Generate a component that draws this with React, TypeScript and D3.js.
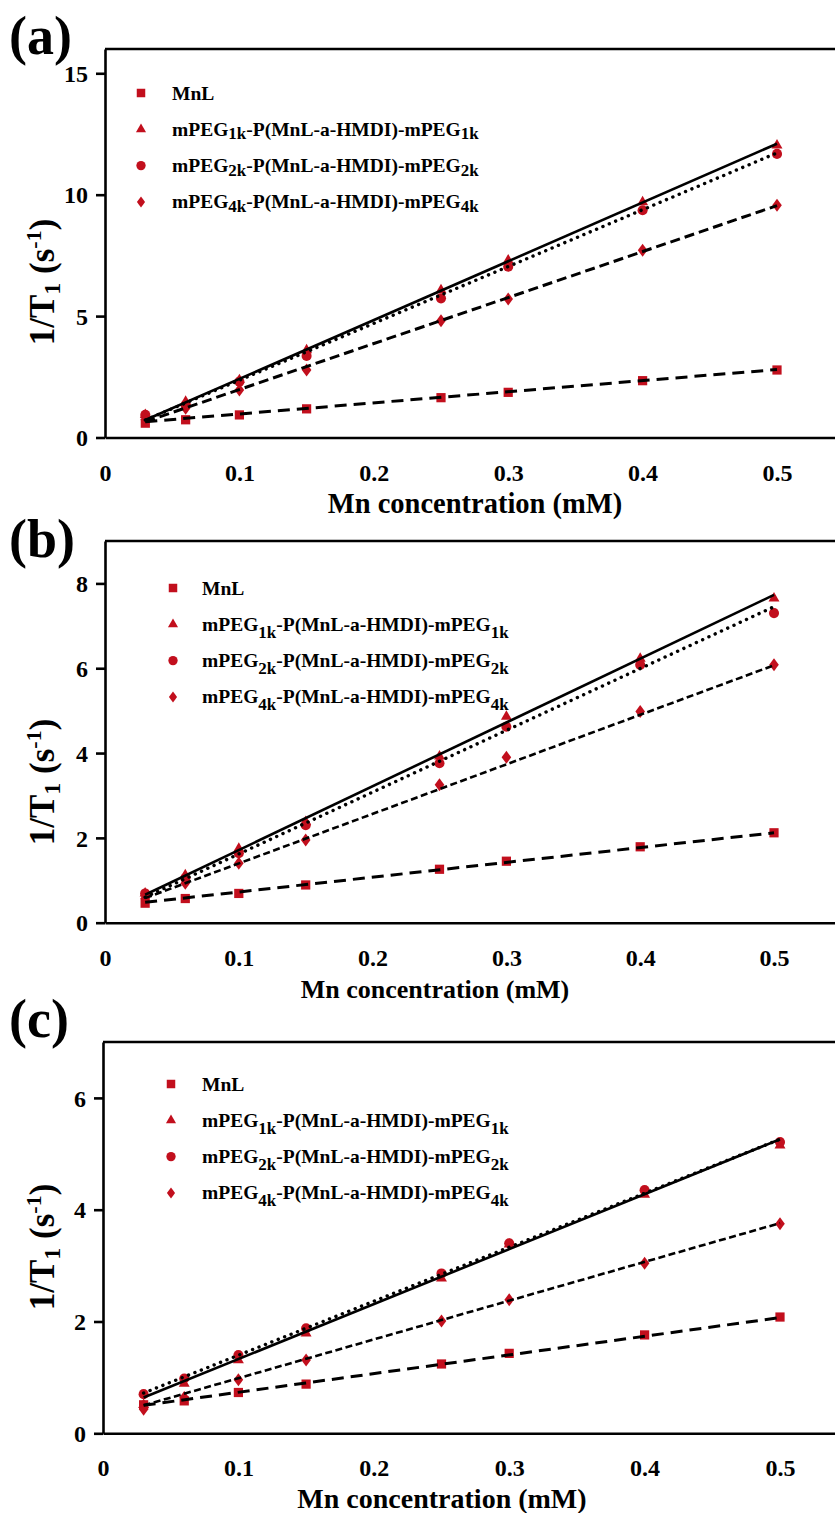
import { useEffect, useRef } from 'react'
import * as d3 from 'd3'

// Three relaxivity panels (1/T1 vs Mn concentration).
const CONC = [0.03, 0.06, 0.1, 0.15, 0.25, 0.3, 0.4, 0.5]
const FIT_RANGE = [0.03, 0.5]
const X_TICKS = [0, 0.1, 0.2, 0.3, 0.4, 0.5]

// panel (a)
const A_MNL = [0.59, 0.73, 0.93, 1.18, 1.64, 1.86, 2.34, 2.78]
const A_1K = [0.93, 1.48, 2.37, 3.6, 6.07, 7.3, 9.7, 12.03]
const A_2K = [0.93, 1.34, 2.3, 3.36, 5.73, 7.03, 9.36, 11.68]
const A_4K = [0.73, 1.2, 1.96, 2.78, 4.81, 5.7, 7.71, 9.56]
const A_FITS = [[0.65, 2.8], [0.72, 12.1], [0.72, 11.72], [0.65, 9.55]]
const A_Y_TICKS = [0, 5, 10, 15]

// panel (b)
const B_MNL = [0.46, 0.57, 0.69, 0.89, 1.26, 1.45, 1.79, 2.12]
const B_1K = [0.69, 1.12, 1.75, 2.38, 3.92, 4.86, 6.23, 7.65]
const B_2K = [0.69, 1.05, 1.64, 2.3, 3.76, 4.62, 6.08, 7.3]
const B_4K = [0.57, 0.93, 1.4, 1.95, 3.25, 3.9, 4.98, 6.08]
const B_FITS = [[0.48, 2.12], [0.66, 7.73], [0.6, 7.45], [0.58, 6.07]]
const B_Y_TICKS = [0, 2, 4, 6, 8]

// panel (c)
const C_MNL = [0.51, 0.58, 0.73, 0.88, 1.24, 1.43, 1.76, 2.08]
const C_1K = [0.51, 0.89, 1.31, 1.79, 2.77, 3.38, 4.27, 5.15]
const C_2K = [0.7, 0.98, 1.4, 1.88, 2.86, 3.4, 4.35, 5.21]
const C_4K = [0.43, 0.64, 0.96, 1.31, 2.01, 2.39, 3.04, 3.75]
const C_FITS = [[0.5, 2.07], [0.64, 5.26], [0.72, 5.26], [0.5, 3.76]]
const C_Y_TICKS = [0, 2, 4, 6]

const PANEL_LABELS = ['(a)', '(b)', '(c)']
const X_TITLE = 'Mn concentration (mM)'
// legend entries: [text, isSubscript] pieces
const LEGEND = [
  [['MnL', false]],
  [['mPEG', false], ['1k', true], ['-P(MnL-a-HMDI)-mPEG', false], ['1k', true]],
  [['mPEG', false], ['2k', true], ['-P(MnL-a-HMDI)-mPEG', false], ['2k', true]],
  [['mPEG', false], ['4k', true], ['-P(MnL-a-HMDI)-mPEG', false], ['4k', true]],
]

const RED = '#c20f1d'
const FONT = "'Liberation Serif', 'Times New Roman', serif"
const W = 835, H = 1513

const PANELS = [
  { series: [A_MNL, A_1K, A_2K, A_4K], fits: A_FITS, yMax: 16, yTicks: A_Y_TICKS,
    top: 49, bottom: 437.5, x0: 105, x05: 777, labelY: 54, legX: 141, legTextX: 172, legY: 93,
    yTitleY: 282, xTitleX: 475, xTitleSize: 28.5, subDy: 3.5, dash4k: '10,5', w4k: 3 },
  { series: [B_MNL, B_1K, B_2K, B_4K], fits: B_FITS, yMax: 9, yTicks: B_Y_TICKS,
    top: 541, bottom: 922.7, x0: 105, x05: 774, labelY: 557, legX: 173, legTextX: 202, legY: 588,
    yTitleY: 782, xTitleX: 435, xTitleSize: 26, subDy: 7, dash4k: '7,3.5', w4k: 2.6 },
  { series: [C_MNL, C_1K, C_2K, C_4K], fits: C_FITS, yMax: 7, yTicks: C_Y_TICKS,
    top: 1042, bottom: 1433.3, x0: 103, x05: 780, labelY: 1037, legX: 171, legTextX: 202, legY: 1084,
    yTitleY: 1247, xTitleX: 442, xTitleSize: 28, subDy: 7, dash4k: '7,3.5', w4k: 2.6 },
]

const diamond = 'M0,-6.5L4.8,0L0,6.5L-4.8,0Z'
function markerPath(i, scale = 1) {
  if (i === 3) return diamond
  const type = [d3.symbolSquare, d3.symbolTriangle, d3.symbolCircle][i]
  const size = [85, 52, 80][i] * scale
  return d3.symbol(type, size)()
}

export default function App() {
  const ref = useRef(null)

  useEffect(() => {
    const svg = d3.select(ref.current)
    svg.selectAll('*').remove()

    PANELS.forEach((p, pi) => {
      const k = (p.x05 - p.x0) / 0.5
      const x = d3.scaleLinear().domain([0, 0.58]).range([p.x0, p.x0 + 0.58 * k])
      const y = d3.scaleLinear().domain([0, p.yMax]).range([p.bottom, p.top])
      const g = svg.append('g')

      // frame: top line (right edge runs off the picture)
      g.append('line').attr('x1', p.x0).attr('x2', W + 10).attr('y1', p.top).attr('y2', p.top)
        .attr('stroke', '#000').attr('stroke-width', 2.6)

      g.append('g').attr('transform', `translate(0,${p.bottom})`)
        .call(d3.axisBottom(x).tickValues(X_TICKS).tickSize(0).tickSizeOuter(0)
          .tickFormat(d => d === 0 ? '0' : d3.format('.1f')(d)))
        .call(s => s.attr('font-family', null))
        .call(s => s.select('.domain').attr('stroke-width', 2.6))
        .call(s => s.selectAll('text').attr('y', 43).attr('dy', null)
          .attr('font-size', 24).attr('font-weight', 700).style('font-family', FONT).attr('fill', '#000'))

      g.append('g').attr('transform', `translate(${p.x0},0)`)
        .call(d3.axisLeft(y).tickValues(p.yTicks).tickSize(9).tickSizeOuter(0).tickPadding(8)
          .tickFormat(d3.format('d')))
        .call(s => s.attr('font-family', null))
        .call(s => s.selectAll('line,path').attr('stroke-width', 2.6))
        .call(s => s.selectAll('text').attr('dy', '0.34em')
          .attr('font-size', 24).attr('font-weight', 700).style('font-family', FONT).attr('fill', '#000'))

      // data points
      p.series.forEach((vals, si) => {
        g.append('g').selectAll('path').data(vals).join('path')
          .attr('d', markerPath(si))
          .attr('transform', (v, i) => `translate(${x(CONC[i])},${y(v)})`)
          .attr('fill', RED)
      })

      // fitted lines
      const styles = [
        { dash: '12,7', w: 3, cap: 'butt' },
        { dash: null, w: 2.6, cap: 'butt' },
        { dash: '0.1,6.8', w: 3.4, cap: 'round' },
        { dash: p.dash4k, w: p.w4k, cap: 'butt' },
      ]
      const line = d3.line().x(d => x(d[0])).y(d => y(d[1]))
      p.fits.forEach((f, si) => {
        const st = styles[si]
        g.append('path')
          .datum([[FIT_RANGE[0], f[0]], [FIT_RANGE[1], f[1]]])
          .attr('d', line).attr('fill', 'none').attr('stroke', '#000')
          .attr('stroke-width', st.w).attr('stroke-linecap', st.cap)
          .attr('stroke-dasharray', st.dash)
      })

      // legend
      LEGEND.forEach((parts, li) => {
        const cy = p.legY + li * 36.3
        g.append('path').attr('d', markerPath(li, 0.85))
          .attr('transform', `translate(${p.legX},${cy}) scale(${li === 3 ? 0.85 : 1})`)
          .attr('fill', RED)
        const t = g.append('text').attr('x', p.legTextX).attr('y', cy + 6.5)
          .style('font-family', FONT).attr('font-weight', 700).attr('font-size', 19.5)
        let shifted = false
        parts.forEach(([txt, sub]) => {
          const ts = t.append('tspan').text(txt)
          if (sub && !shifted) { ts.attr('dy', p.subDy).attr('font-size', 17); shifted = true }
          else if (!sub && shifted) { ts.attr('dy', -p.subDy); shifted = false }
        })
      })

      // panel label
      g.append('text').attr('x', 9).attr('y', p.labelY).text(PANEL_LABELS[pi])
        .style('font-family', FONT).attr('font-weight', 700).attr('font-size', 54)

      // axis titles
      g.append('text').attr('x', p.xTitleX).attr('y', p.bottom + 75).attr('text-anchor', 'middle')
        .style('font-family', FONT).attr('font-weight', 700).attr('font-size', p.xTitleSize)
        .text(X_TITLE)

      const yt = g.append('text').attr('transform', `translate(54,${p.yTitleY}) rotate(-90)`)
        .attr('text-anchor', 'middle').style('font-family', FONT).attr('font-weight', 700)
        .attr('font-size', 35)
      yt.append('tspan').text('1/T')
      yt.append('tspan').text('1').attr('font-size', 24).attr('dy', 6)
      yt.append('tspan').text(' (s').attr('dy', -6)
      yt.append('tspan').text('-1').attr('font-size', 22).attr('dy', -13)
      yt.append('tspan').text(')').attr('dy', 13)
    })
  }, [])

  return (
    <svg ref={ref} width={W} height={H}
      style={{ position: 'absolute', left: 0, top: 0, display: 'block', background: '#fff' }} />
  )
}
